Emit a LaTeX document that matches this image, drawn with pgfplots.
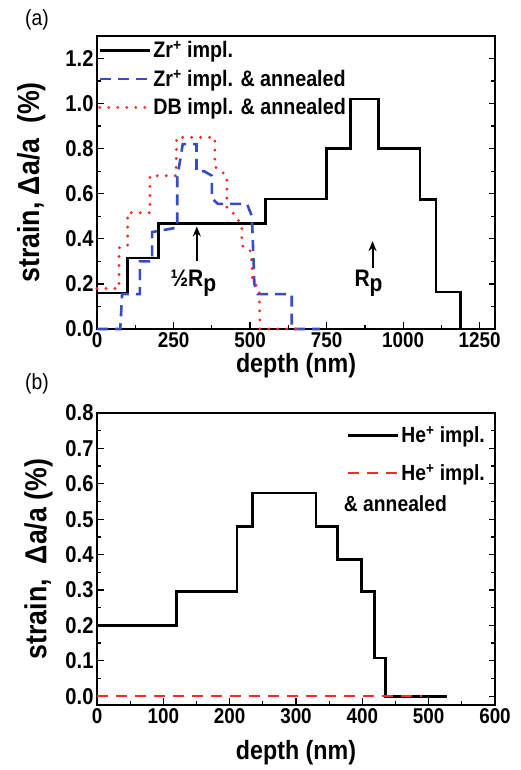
\documentclass[border=0pt]{standalone}
\usepackage{fontspec}
\setmainfont{Liberation Sans}[FakeStretch=0.88]
\usepackage{pgfplots}
\pgfplotsset{compat=1.18}
\usetikzlibrary{arrows.meta}
\definecolor{zrblue}{RGB}{55,75,195}
\definecolor{dbred}{RGB}{250,40,40}
\pgfplotsset{
  common/.style={
    scale only axis, clip=false,
    axis line style={line width=1.6bp},
    every tick/.style={black, line width=1.3bp},
    major tick length=6.5bp, minor tick length=4bp,
    xtick pos=left, ytick pos=both, yticklabel pos=left,
    tick align=inside,
    /pgf/number format/assume math mode=true,
    xticklabel style={font=\fontsize{21.5}{21.5}\selectfont\bfseries, /pgf/number format/1000 sep={}},
    yticklabel style={font=\fontsize{23}{23}\selectfont\bfseries, /pgf/number format/fixed, /pgf/number format/fixed zerofill, /pgf/number format/precision=1},
    xlabel style={font=\fontsize{26.5}{26.5}\selectfont\bfseries},
    ylabel style={font=\fontsize{30.5}{30.5}\selectfont\bfseries},
    minor x tick num=1, minor y tick num=1,
    legend cell align=left,
    legend image code/.code={\draw[##1] (0bp,0bp) -- (50bp,0bp);},
  }
}
\begin{document}
\begin{tikzpicture}[x=1bp,y=1bp]
\path[use as bounding box] (0,0) rectangle (521,770);
\node[font=\fontsize{22}{22}\selectfont] at (37bp,750bp) {(a)};
\node[font=\fontsize{22}{22}\selectfont] at (37bp,386bp) {(b)};

\begin{axis}[common, at={(97bp,441bp)}, anchor=south west, width=398bp, height=293bp,
  xmin=0, xmax=1300, ymin=0, ymax=1.3,
  xtick={0,250,500,750,1000,1250}, ytick={0,0.2,0.4,0.6,0.8,1.0,1.2},
  xlabel={depth (nm)}, ylabel={strain, Δa/a\ \ (\%)},
  xlabel style={at={(axis description cs:0.5,-0.125)}, anchor=center},
  ylabel style={at={(axis description cs:-0.165,0.5)}, anchor=center},
  legend style={draw=none, fill=none, at={(axis description cs:0,1)}, anchor=north west,
    font=\fontsize{22.5}{22.5}\selectfont\bfseries, row sep=6.5bp, inner xsep=1bp, inner ysep=3bp,
    /tikz/every even column/.append style={column sep=3bp}},
]
\addplot[black, line width=2.8bp, const plot] coordinates {
  (0,0.16) (100,0.315) (200,0.467) (550,0.577) (750,0.80) (828,1.02) (920,0.80) (1055,0.573) (1107,0.164) (1187,0)
};
\addlegendentry{Zr\textsuperscript{+} impl.}
\addplot[zrblue, line width=2.6bp, dash pattern=on 11bp off 7bp] coordinates {
  (0,0) (76,0) (82,0.155) (140,0.155) (140,0.30) (180,0.30) (180,0.43) (262,0.45) (262,0.67) (280,0.82) (325,0.82) (325,0.70) (350,0.70) (375,0.68) (375,0.58) (395,0.555) (490,0.555) (506,0.50) (514,0.20) (525,0.155) (636,0.155) (636,0) (728,0)
};
\addlegendentry{Zr\textsuperscript{+} impl. \& annealed}
\addplot[dbred, line width=3.2bp, line cap=round, dash pattern=on 0bp off 9bp] coordinates {
  (0,0.18) (72,0.18) (72,0.36) (100,0.37) (100,0.516) (173,0.516) (173,0.68) (258,0.68) (260,0.85) (385,0.85) (385,0.72) (424,0.68) (424,0.54) (456,0.50) (473,0.45) (473,0.37) (500,0.35) (506,0.29) (508,0.21) (530,0.18) (532,0) (656,0)
};
\addlegendentry{DB impl. \& annealed}
\draw[-{Stealth[length=10bp,width=8bp]}, line width=2bp] (axis cs:326,0.30) -- (axis cs:326,0.455);
\node[font=\fontsize{24}{24}\selectfont\bfseries] at (axis cs:315,0.205) {½R\raisebox{-0.4ex}{p}};
\draw[-{Stealth[length=10bp,width=8bp]}, line width=2bp] (axis cs:900,0.27) -- (axis cs:900,0.39);
\node[font=\fontsize{24}{24}\selectfont\bfseries] at (axis cs:887,0.205) {R\raisebox{-0.4ex}{p}};
\end{axis}

\begin{axis}[common, at={(97bp,65bp)}, anchor=south west, width=398bp, height=292bp,
  xmin=0, xmax=600, ymin=-0.025, ymax=0.8,
  xtick={0,100,200,300,400,500,600}, ytick={0,0.1,0.2,0.3,0.4,0.5,0.6,0.7,0.8},
  xlabel={depth (nm)}, ylabel={strain,\ \ Δa/a (\%)},
  xlabel style={at={(axis description cs:0.5,-0.163)}, anchor=center},
  ylabel style={at={(axis description cs:-0.147,0.5)}, anchor=center},
  legend style={draw=none, fill=none, at={(axis description cs:1,1)}, anchor=north east,
    font=\fontsize{22}{22}\selectfont\bfseries, row sep=16bp, inner xsep=8bp, inner ysep=11bp,
    /tikz/every even column/.append style={column sep=3bp}},
]
\addplot[black, line width=2.8bp, const plot] coordinates {
  (0,0.2) (120,0.295) (211,0.48) (234,0.574) (330,0.48) (363,0.386) (399,0.295) (418,0.108) (435,0) (527,0)
};
\addlegendentry{He\textsuperscript{+} impl.}
\addplot[dbred, line width=2.6bp, dash pattern=on 11bp off 8bp] coordinates {
  (0,0) (490,0)
};
\addlegendentry{He\textsuperscript{+} impl.}
\node[anchor=west, font=\fontsize{22}{22}\selectfont\bfseries] at (axis cs:367,0.545) {\& annealed};
\end{axis}
\end{tikzpicture}
\end{document}
